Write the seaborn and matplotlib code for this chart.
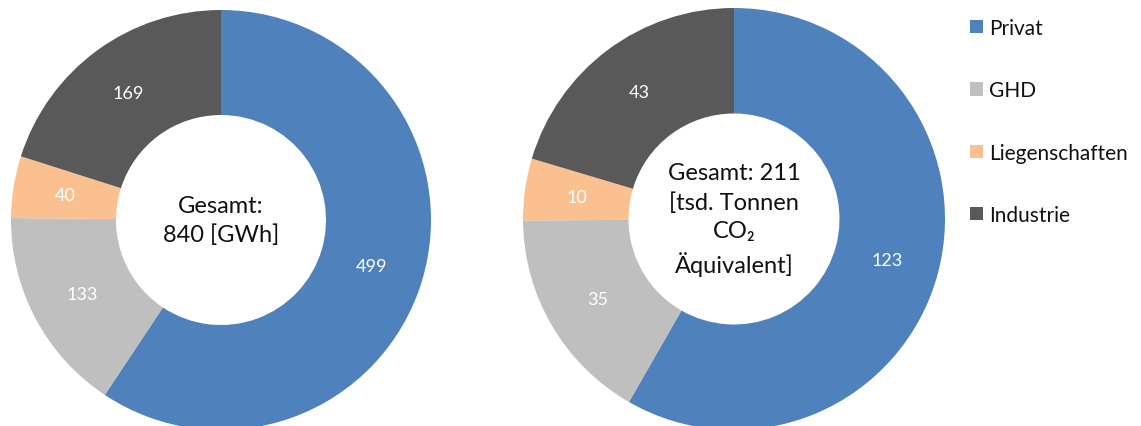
import seaborn as sns
import matplotlib.pyplot as plt

# Sectors and values
categories = ["Privat", "GHD", "Liegenschaften", "Industrie"]
energy_gwh = [499, 133, 40, 169]
co2_kt = [123, 35, 10, 43]
center_energy = "Gesamt:\n840 [GWh]"
center_co2 = "Gesamt: 211\n[tsd. Tonnen\nCO\u2082\nÄquivalent]"

colors = sns.color_palette(["#4F81BD", "#BFBFBF", "#FAC090", "#595959"])

sns.set_theme(style="white")
plt.rcParams['font.family'] = ['Lato', 'DejaVu Sans']

W, H = 1141, 427
fig = plt.figure(figsize=(W / 100, H / 100), dpi=100)


def donut(cx, cy, r, values, center_text):
    # place axes by pixel centre/radius (cy measured from top)
    ax = fig.add_axes([(cx - r) / W, (H - cy - r) / H, 2 * r / W, 2 * r / H])
    total = sum(values)
    wedges, _, autotexts = ax.pie(
        values, colors=colors, startangle=90, counterclock=False,
        wedgeprops=dict(width=0.5, linewidth=0),
        autopct=lambda p: f"{p * total / 100:.0f}", pctdistance=0.75,
        textprops=dict(color="white", fontsize=13))
    ax.set_xlim(-1, 1)
    ax.set_ylim(-1, 1)
    ax.text(0, 0, center_text, ha="center", va="center", fontsize=17,
            color="#111111", linespacing=1.45)
    return wedges


wedges = donut(221, 221, 210, energy_gwh, center_energy)
donut(734, 220, 211, co2_kt, center_co2)

fig.legend(wedges, categories, loc="upper left",
           bbox_to_anchor=(970 / W, 1 - 19 / H), frameon=False,
           borderpad=0, borderaxespad=0,
           fontsize=15, handlelength=0.62, handleheight=0.62,
           handletextpad=0.3, labelspacing=2.03, labelcolor="#111111")

plt.savefig("out.png", dpi=100)
